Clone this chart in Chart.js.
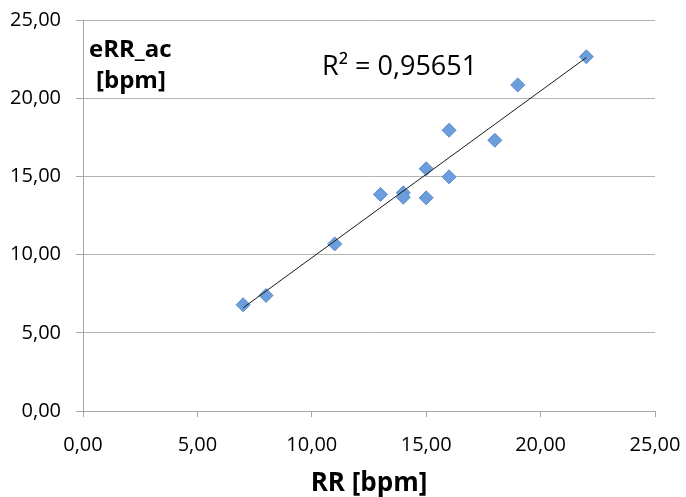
<!DOCTYPE html>
<html>
<head>
<meta charset="utf-8">
<script src="https://cdn.jsdelivr.net/npm/chart.js@4"></script>
<style>
  html, body { margin:0; padding:0; background:#fff; }
  #wrap { width:686px; height:497px; }
</style>
</head>
<body>
<div id="wrap"><canvas id="c" width="686" height="497"></canvas></div>
<script>
/* ─── Data ──────────────────────────────────────────────────────────── */
const rrValues   = [7, 8, 11, 13, 14, 14, 15, 15, 16, 16, 18, 19, 22];
const errValues  = [6.79, 7.39, 10.68, 13.85, 13.95, 13.67, 15.49, 13.63, 17.95, 14.97, 17.31, 20.85, 22.65];
const trendX     = [7, 22];
const trendY     = [6.6, 22.6];
const axisTicks  = [0, 5, 10, 15, 20, 25];
const rSquared   = "R² = 0,95651";
const yTitle     = ["eRR_ac", "[bpm]"];
const xTitle     = "RR [bpm]";

const FONT = "'Open Sans', Lato, sans-serif";
const fmt = v => v.toFixed(2).replace(".", ",");

/* ─── Overlay text (y title inside plot, R²) ────────────────────────── */
const overlay = {
  id: "overlay",
  afterDraw(chart) {
    const ctx = chart.ctx;
    ctx.save();
    ctx.fillStyle = "#000";
    ctx.textBaseline = "alphabetic";
    ctx.textAlign = "left";
    ctx.font = `bold 24px ${FONT}`;
    ctx.fillText(yTitle[0], 89, 57);
    ctx.fillText(yTitle[1], 96, 88);
    ctx.font = `27px ${FONT}`;
    ctx.fillText(rSquared, 322, 75);
    ctx.restore();
  },
};

// keep the tick labels from pushing the plot area around
const pinX = s => { s.height = 86; s.paddingLeft = 0; s.paddingRight = 0; };
const pinY = s => { s.width = 83; s.paddingTop = 0; s.paddingBottom = 0; };

const ctx = document.getElementById("c").getContext("2d");
new Chart(ctx, {
  type: "scatter",
  data: {
    datasets: [
      {
        label: "trend",
        type: "line",
        data: trendX.map((x, i) => ({ x, y: trendY[i] })),
        borderColor: "#1a1a1a",
        borderWidth: 1,
        pointRadius: 0,
        fill: false,
        order: 1,
      },
      {
        label: "eRR_ac",
        data: rrValues.map((x, i) => ({ x, y: errValues[i] })),
        pointStyle: "rectRot",
        pointRadius: 7,
        backgroundColor: "#6d9edc",
        borderColor: "#5a8ccb",
        borderWidth: 1,
        order: 2,
      },
    ],
  },
  options: {
    responsive: false,
    animation: false,
    devicePixelRatio: 1,
    layout: { padding: { top: 20, right: 31, left: 0, bottom: 0 } },
    plugins: { legend: { display: false }, tooltip: { enabled: false } },
    scales: {
      x: {
        type: "linear",
        min: 0, max: 25,
        afterBuildTicks: s => { s.ticks = axisTicks.map(v => ({ value: v })); },
        afterFit: pinX,
        ticks: { color: "#000", font: { family: FONT, size: 20 }, padding: 16, callback: v => fmt(v), maxRotation: 0 },
        grid: { drawOnChartArea: false, color: "#a6a6a6", tickLength: 6, tickColor: "#a6a6a6" },
        border: { color: "#a6a6a6", width: 1 },
        title: { display: true, text: xTitle, color: "#000", font: { family: FONT, size: 26, weight: "bold", lineHeight: 1 }, padding: { top: 0, bottom: 0 } },
      },
      y: {
        type: "linear",
        min: 0, max: 25,
        afterBuildTicks: s => { s.ticks = axisTicks.map(v => ({ value: v })); },
        afterFit: pinY,
        ticks: { color: "#000", font: { family: FONT, size: 20 }, padding: 15, callback: v => fmt(v) },
        grid: { color: "#b3b3b3", tickLength: 7, tickColor: "#a6a6a6" },
        border: { color: "#a6a6a6", width: 1 },
      },
    },
  },
  plugins: [overlay],
});
</script>
</body>
</html>
